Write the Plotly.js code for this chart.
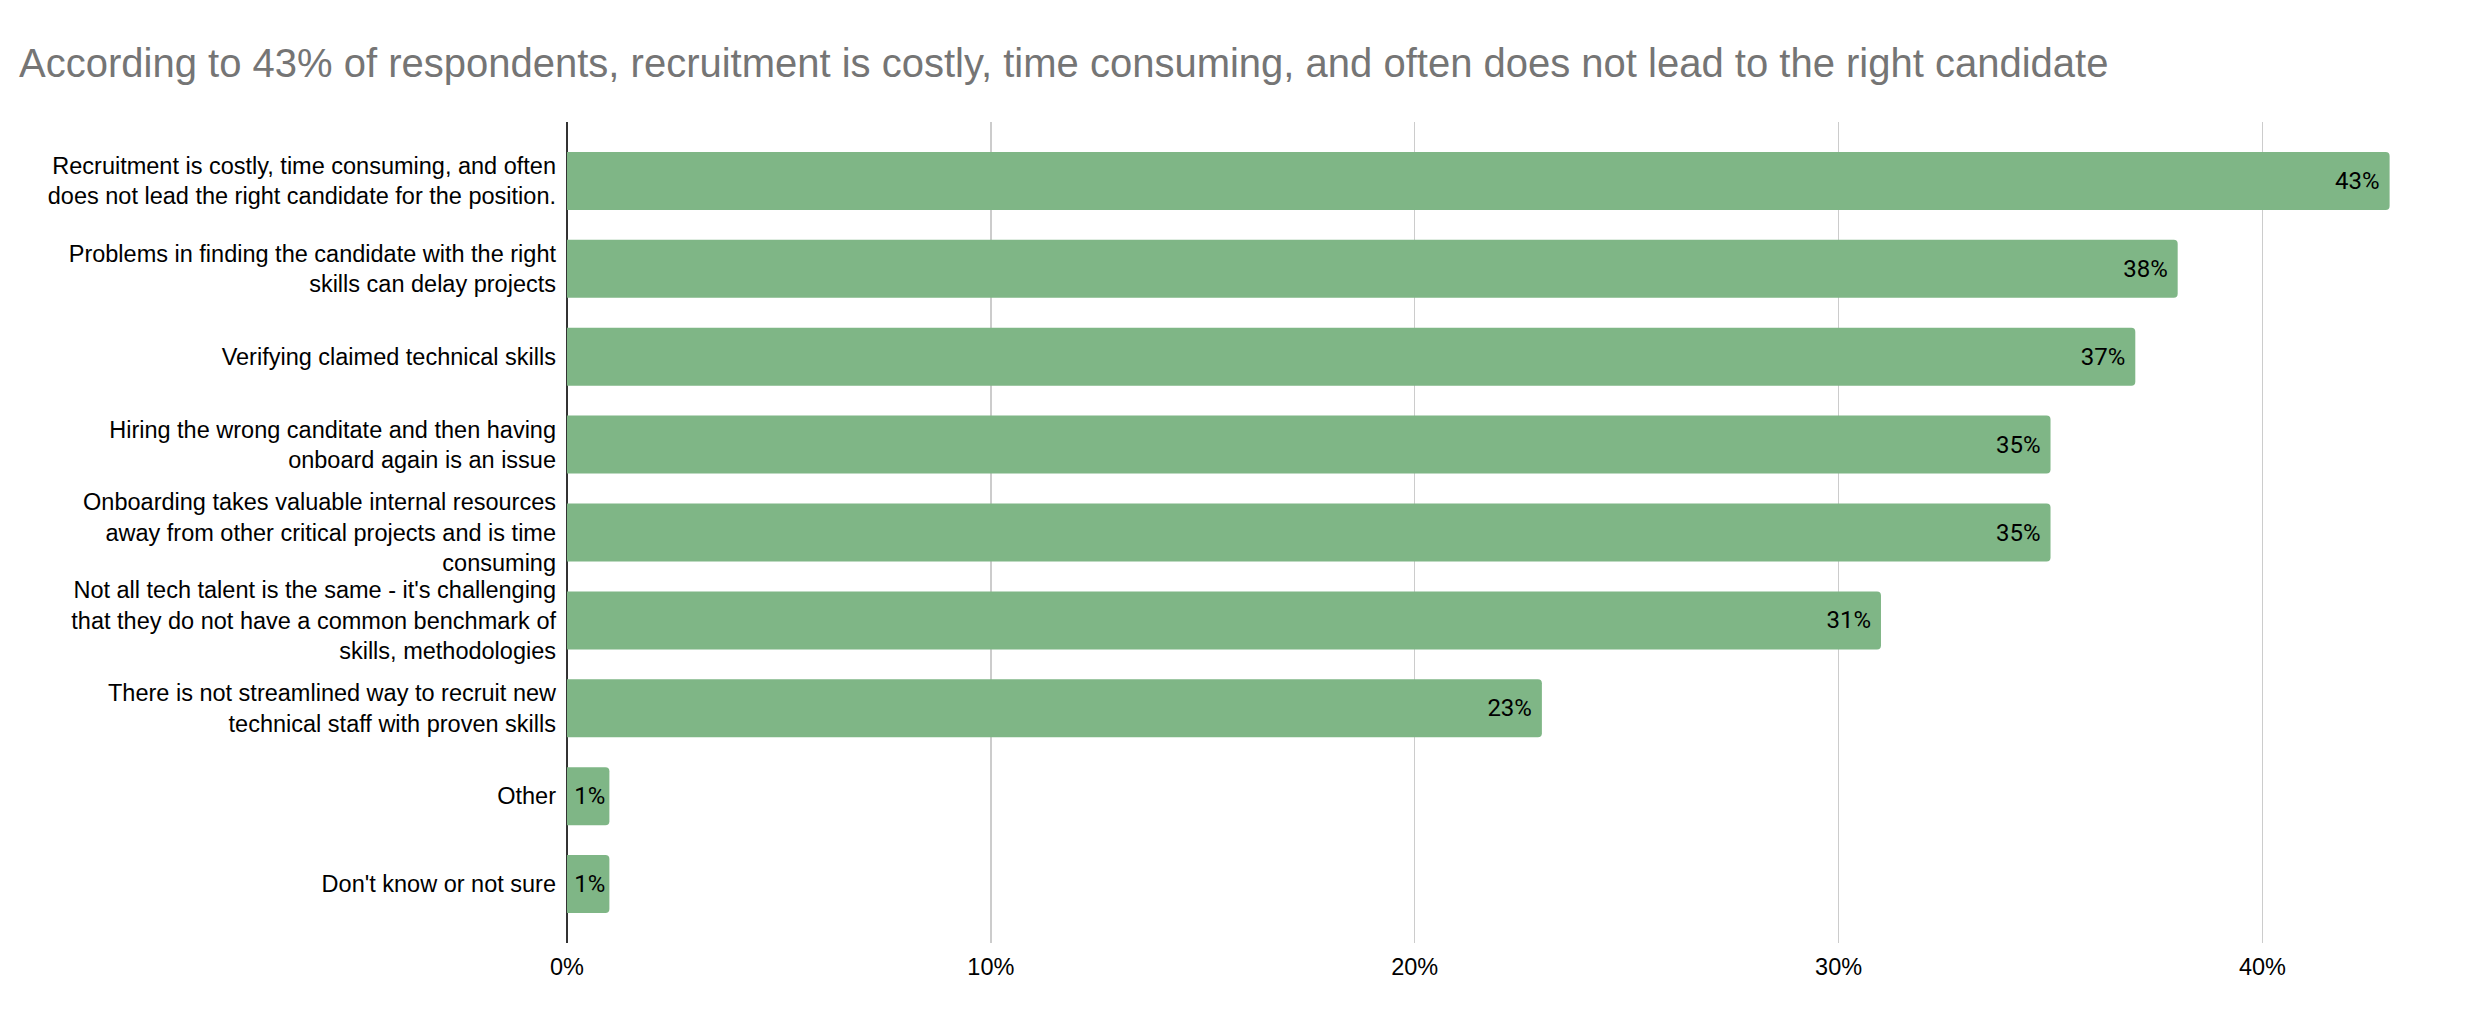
<!DOCTYPE html>
<html>
<head>
<meta charset="utf-8">
<script src="https://cdn.plot.ly/plotly-3.0.1.min.js"></script>
<style>
  html, body { margin: 0; padding: 0; background: #ffffff; }
  #chart { width: 2478px; height: 1016px; }
</style>
</head>
<body>
<div id="chart"></div>
<script>
const chartTitle = "According to 43% of respondents, recruitment is costly, time consuming, and often does not lead to the right candidate";

const categories = [
  "Recruitment is costly, time consuming, and often<br>does not lead the right candidate for the position.",
  "Problems in finding the candidate with the right<br>skills can delay projects",
  "Verifying claimed technical skills",
  "Hiring the wrong canditate and then having<br>onboard again is an issue",
  "Onboarding takes valuable internal resources<br>away from other critical projects and is time<br>consuming",
  "Not all tech talent is the same - it's challenging<br>that they do not have a common benchmark of<br>skills, methodologies",
  "There is not streamlined way to recruit new<br>technical staff with proven skills",
  "Other",
  "Don't know or not sure"
];

const percentages = [43, 38, 37, 35, 35, 31, 23, 1, 1];

const xTickValues = [0, 10, 20, 30, 40];
const xTickLabels = ["0%", "10%", "20%", "30%", "40%"];

// wider bars get a little extra right padding for their value label
const labelTemplates = percentages.map(v => v >= 10 ? "%{x}%\u00a0" : "%{x}%");

const trace = {
  type: "bar",
  orientation: "h",
  x: percentages,
  y: categories,
  marker: { color: "#7fb686", cornerradius: 4 },
  texttemplate: labelTemplates,
  textposition: "inside",
  insidetextanchor: "end",
  textangle: 0,
  insidetextfont: { family: "Roboto, Arial, sans-serif", size: 24, color: "#000000" },
  hoverinfo: "none",
  cliponaxis: false
};

const layout = {
  width: 2478,
  height: 1016,
  paper_bgcolor: "#ffffff",
  plot_bgcolor: "#ffffff",
  margin: { l: 567, r: 46, t: 122, b: 73, pad: 0 },
  showlegend: false,
  bargap: 0.34,
  title: {
    text: chartTitle,
    font: { family: "Liberation Sans, Arial, sans-serif", size: 40, color: "#757575" },
    xref: "container",
    yref: "container",
    x: 0.0077,
    xanchor: "left",
    y: 1 - 63 / 1016,
    yanchor: "middle"
  },
  xaxis: {
    range: [0, 44],
    tickvals: xTickValues,
    ticktext: xTickLabels,
    showgrid: true,
    gridcolor: "#cccccc",
    gridwidth: 1.5,
    zeroline: true,
    zerolinecolor: "#333333",
    zerolinewidth: 2,
    showline: false,
    ticks: "",
    ticklabelstandoff: 7,
    tickfont: { family: "Liberation Sans, Arial, sans-serif", size: 23.5, color: "#000000" },
    fixedrange: true
  },
  yaxis: {
    type: "category",
    categoryorder: "array",
    categoryarray: categories,
    range: [8.67, -0.67],
    showgrid: false,
    zeroline: false,
    showline: false,
    ticks: "",
    ticklabelstandoff: 10,
    tickfont: { family: "Liberation Sans, Arial, sans-serif", size: 23.5, color: "#000000" },
    fixedrange: true
  }
};

Plotly.newPlot("chart", [trace], layout, { displayModeBar: false, staticPlot: true });
</script>
</body>
</html>
